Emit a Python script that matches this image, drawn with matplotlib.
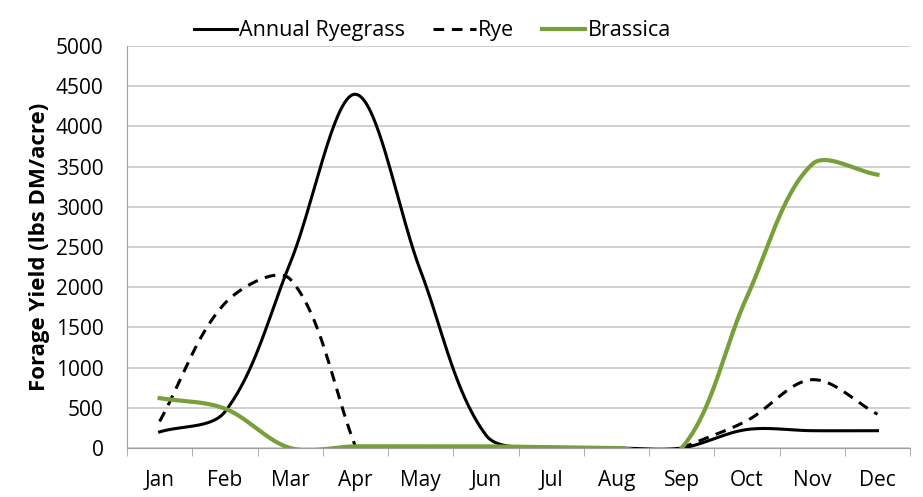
import numpy as np
import matplotlib.pyplot as plt

months = ['Jan', 'Feb', 'Mar', 'Apr', 'May', 'Jun', 'Jul', 'Aug', 'Sep', 'Oct', 'Nov', 'Dec']
ryegrass = [200, 450, 2300, 4400, 2200, 160, 0, 0, 0, 230, 215, 215]
rye = [330, 1800, 2100, 20, np.nan, np.nan, np.nan, np.nan, 0, 340, 850, 420]
brassica = [620, 490, 0, 20, 20, 20, 10, 0, 0, 1880, 3530, 3400]

# screen scale (pixels per data unit) so the smoothing is done in display space
SX, SY = 65.25, 402 / 5000


def smooth(y, n=40):
    """Bezier smoothing like Excel's smoothed line, split on NaN gaps"""
    y = np.asarray(y, dtype=float)
    xs_out, ys_out = [], []
    idx = np.arange(len(y))
    good = ~np.isnan(y)
    runs = []
    cur = []
    for i in idx:
        if good[i]:
            cur.append(i)
        elif cur:
            runs.append(cur)
            cur = []
    if cur:
        runs.append(cur)
    for run in runs:
        pts = np.column_stack([idx[run] * SX, y[run] * SY])
        m = len(pts)
        d = np.hypot(*(np.diff(pts, axis=0).T))
        c_after = np.zeros_like(pts)
        c_before = np.zeros_like(pts)
        for k in range(m):
            if k == 0:
                c_after[k] = pts[0] + (pts[1] - pts[0]) / 3
            elif k == m - 1:
                c_before[k] = pts[-1] - (pts[-1] - pts[-2]) / 3
            else:
                T = pts[k + 1] - pts[k - 1]
                tot = d[k - 1] + d[k]
                c_after[k] = pts[k] + T * d[k] / tot / 3
                c_before[k] = pts[k] - T * d[k - 1] / tot / 3
        t = np.linspace(0, 1, n)[:, None]
        for k in range(m - 1):
            p1, p2 = pts[k], pts[k + 1]
            c1, c2 = c_after[k], c_before[k + 1]
            b = (1 - t) ** 3 * p1 + 3 * (1 - t) ** 2 * t * c1 + 3 * (1 - t) * t ** 2 * c2 + t ** 3 * p2
            xs_out.extend(b[:, 0] / SX)
            ys_out.extend(b[:, 1] / SY)
        xs_out.append(np.nan)
        ys_out.append(np.nan)
    return np.array(xs_out), np.array(ys_out)


plt.rcParams['font.family'] = ['Open Sans', 'DejaVu Sans']

fig = plt.figure(figsize=(9.23, 4.97), dpi=100)
ax = fig.add_axes([0.1376, 0.0986, 0.8484, 0.8088])

x, y = smooth(ryegrass)
ax.plot(x, y, color='black', lw=2.2, label='Annual Ryegrass', zorder=3)
x, y = smooth(rye)
ax.plot(x, y, color='black', lw=2.2, ls=(0, (3.5, 2.5)), label='Rye', zorder=3)
x, y = smooth(brassica)
ax.plot(x, y, color='#77a03a', lw=3, label='Brassica', zorder=4)

ax.set_xlim(-0.5, 11.5)
ax.set_ylim(0, 5000)
ax.set_yticks(np.arange(0, 5001, 500))
ax.set_xticks(range(len(months)))
ax.set_xticklabels(months)
ax.set_xticks(np.arange(-0.5, 12, 1), minor=True)
ax.tick_params(axis='x', which='major', length=0, pad=16, labelsize=15)
ax.tick_params(axis='x', which='minor', length=6, color='#a0a0a0')
ax.tick_params(axis='y', length=0, pad=17, labelsize=15)
ax.grid(axis='y', color='#c8c8c8', lw=1.2)
ax.set_axisbelow(True)
for s in ['top', 'right']:
    ax.spines[s].set_visible(False)
ax.spines['left'].set_color('#a0a0a0')
ax.spines['bottom'].set_color('#a0a0a0')
ax.set_ylabel('Forage Yield (lbs DM/acre)', fontsize=16, fontweight='bold', labelpad=4)

ax.legend(loc='lower center', bbox_to_anchor=(0.39, 0.985), ncol=3, frameon=False,
          fontsize=15.5, handlelength=2.0, handletextpad=0.1, columnspacing=1.3,
          borderaxespad=0.1)

fig.savefig('out.png', dpi=100)
